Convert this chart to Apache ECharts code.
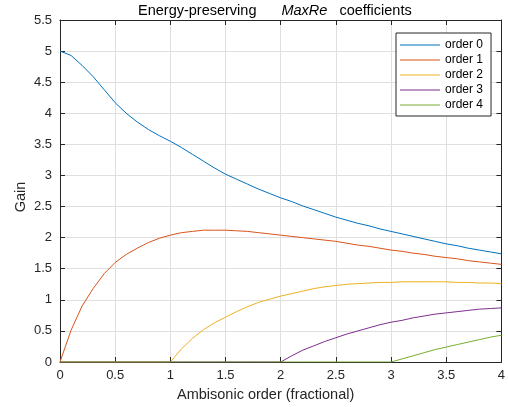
<!DOCTYPE html>
<html>
<head>
<meta charset="utf-8">
<script src="https://cdn.jsdelivr.net/npm/echarts@6/dist/echarts.min.js"></script>
<style>html,body{margin:0;padding:0;background:#fff}#c{width:508px;height:407px}</style>
</head>
<body>
<div id="c"></div>
<script>
var xs = [0,0.1,0.2,0.3,0.4,0.5,0.6,0.7,0.8,0.9,1.0,1.1,1.2,1.3,1.4,1.5,1.6,1.7,1.8,1.9,2.0,2.1,2.2,2.3,2.4,2.5,2.6,2.7,2.8,2.9,3.0,3.1,3.2,3.3,3.4,3.5,3.6,3.7,3.8,3.9,4.0];
var order0 = [5.00,4.93,4.77,4.59,4.38,4.17,4.00,3.86,3.74,3.64,3.55,3.45,3.34,3.23,3.12,3.02,2.94,2.86,2.78,2.71,2.64,2.58,2.51,2.45,2.39,2.33,2.28,2.23,2.19,2.14,2.10,2.06,2.02,1.98,1.94,1.90,1.87,1.83,1.80,1.77,1.74];
var order1 = [0,0.51,0.90,1.18,1.42,1.60,1.73,1.83,1.92,1.99,2.04,2.08,2.10,2.12,2.12,2.12,2.11,2.10,2.08,2.06,2.04,2.02,2.00,1.98,1.96,1.94,1.91,1.88,1.86,1.83,1.80,1.78,1.75,1.73,1.70,1.68,1.66,1.63,1.61,1.59,1.57];
var order2 = [0,0,0,0,0,0,0,0,0,0,0,0.21,0.38,0.52,0.63,0.72,0.81,0.89,0.96,1.01,1.06,1.10,1.14,1.18,1.21,1.23,1.25,1.26,1.27,1.28,1.28,1.29,1.29,1.29,1.29,1.29,1.28,1.28,1.27,1.27,1.26];
var order3 = [0,0,0,0,0,0,0,0,0,0,0,0,0,0,0,0,0,0,0,0,0,0.10,0.19,0.26,0.33,0.39,0.45,0.50,0.55,0.60,0.64,0.67,0.71,0.74,0.77,0.79,0.81,0.83,0.85,0.86,0.87];
var order4 = [0,0,0,0,0,0,0,0,0,0,0,0,0,0,0,0,0,0,0,0,0,0,0,0,0,0,0,0,0,0,0,0.05,0.10,0.15,0.20,0.24,0.28,0.32,0.36,0.40,0.43];
var seriesNames = ['order 0','order 1','order 2','order 3','order 4'];
var seriesValues = [order0, order1, order2, order3, order4];
var colors = ['#0072BD','#D95319','#EDB120','#7E2F8E','#77AC30'];
var titleParts = ['Energy-preserving','MaxRe','coefficients'];
var xLabel = 'Ambisonic order (fractional)';
var yLabel = 'Gain';

var FONT = '"Liberation Sans", Arial, Helvetica, sans-serif';
var TXT = '#262626';

function pairs(vals){ return xs.map(function(x,i){ return [x, vals[i]]; }); }

var chart = echarts.init(document.getElementById('c'), null, {renderer:'canvas'});
var axisCommon = {
  axisLine:{show:true, onZero:false, lineStyle:{color:TXT, width:1}},
  axisTick:{show:true, inside:true, length:5, lineStyle:{color:TXT, width:1}},
};
chart.setOption({
  animation:false,
  backgroundColor:'#fff',
  color: colors,
  title:{
    text:'{a|'+titleParts[0]+'}{b|'+titleParts[1]+'}{c|'+titleParts[2]+'}',
    left:138, top:3, padding:0,
    textStyle:{
      fontFamily:FONT, fontSize:14.5, fontWeight:'normal', color:'#000',
      rich:{
        a:{fontFamily:FONT, fontSize:14.5, color:'#000', lineHeight:15},
        b:{fontFamily:FONT, fontSize:14.5, color:'#000', fontStyle:'italic', padding:[0,0,0,25], lineHeight:15},
        c:{fontFamily:FONT, fontSize:14.5, color:'#000', padding:[0,0,0,12], lineHeight:15}
      }
    }
  },
  legend:{
    orient:'vertical', left:396, top:33,
    padding:[6,8,5,4], itemWidth:40, itemHeight:1.2, itemGap:3,
    icon:'rect',
    borderColor:TXT, borderWidth:1, backgroundColor:'#fff',
    textStyle:{fontFamily:FONT, fontSize:12, color:'#000', lineHeight:12},
    data: seriesNames
  },
  grid:{left:60, right:4, top:20, bottom:45, containLabel:false},
  xAxis:[
    Object.assign({type:'value', position:'bottom', min:0, max:4, interval:0.5,
      axisLabel:{fontFamily:FONT, fontSize:13, color:TXT, margin:7},
      splitLine:{show:true, lineStyle:{color:'#dfdfdf', width:1}}
    }, axisCommon),
    Object.assign({type:'value', position:'top', min:0, max:4, interval:0.5,
      axisLabel:{show:false}, splitLine:{show:false}
    }, axisCommon)
  ],
  yAxis:[
    Object.assign({type:'value', position:'left', min:0, max:5.5, interval:0.5,
      axisLabel:{fontFamily:FONT, fontSize:13, color:TXT, margin:8},
      splitLine:{show:true, lineStyle:{color:'#dfdfdf', width:1}}
    }, axisCommon),
    Object.assign({type:'value', position:'right', min:0, max:5.5, interval:0.5,
      axisLabel:{show:false}, splitLine:{show:false}
    }, axisCommon)
  ],
  graphic:[
    {type:'text', left:177, top:387, style:{text:xLabel, fontFamily:FONT, fontSize:14.5, fill:TXT}},
    {type:'text', x:13, y:197, rotation:Math.PI/2, style:{text:yLabel, fontFamily:FONT, fontSize:14.5, fill:TXT, align:'center', verticalAlign:'top'}}
  ],
  series: seriesNames.map(function(n,i){
    return {name:n, type:'line', xAxisIndex:0, yAxisIndex:0, data:pairs(seriesValues[i]),
      symbol:'none', smooth:false, lineStyle:{width:1, color:colors[i]}, itemStyle:{color:colors[i]}, z:2+i};
  })
});
</script>
</body>
</html>
